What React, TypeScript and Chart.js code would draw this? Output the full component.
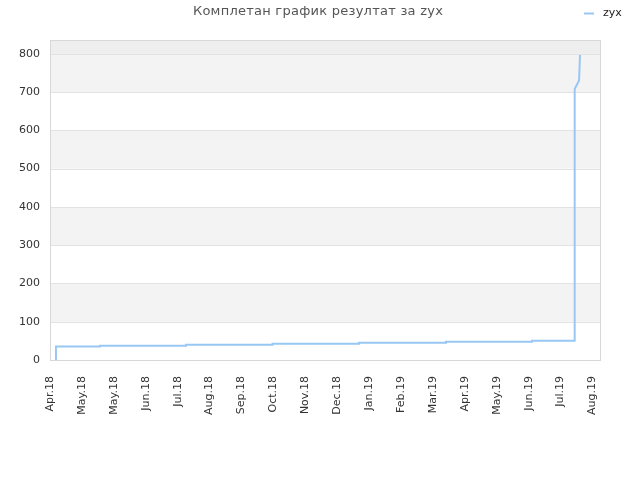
import React, { useEffect, useRef } from "react";
import { Chart, registerables } from "chart.js";

Chart.register(...registerables);

// days since 1 Apr 2018, with the matching score at each vertex of the line
const lineDays = [5.6, 5.6, 47, 47, 127.8, 127.8, 209.3, 209.3, 290.5, 290.5, 372.2, 372.2, 453.1, 453.1, 493.2, 493.2, 497.3, 498.2];
const lineValues = [0, 35, 35, 37.5, 37.5, 40, 40, 42.6, 42.6, 45.3, 45.3, 47.9, 47.9, 50.5, 50.5, 708, 730, 797];

const xTickDays = [0, 30, 60, 90, 120, 150, 180, 210, 240, 270, 300, 330, 360, 390, 420, 450, 480, 510];
const xTickLabels = [
    "Apr.18", "May.18", "May.18", "Jun.18", "Jul.18", "Aug.18", "Sep.18", "Oct.18", "Nov.18",
    "Dec.18", "Jan.19", "Feb.19", "Mar.19", "Apr.19", "May.19", "Jun.19", "Jul.19", "Aug.19",
];
const xMax = 517;
const yTicks = [0, 100, 200, 300, 400, 500, 600, 700, 800];
const yMax = 836;

const title = "Комплетан график резултат за zyx";
const seriesName = "zyx";
const lineColor = "#98c7f4";

const decorPlugin = {
    id: "decor",
    beforeDatasetsDraw(chart: any) {
        const { ctx, chartArea } = chart;
        const y = chart.scales.y;
        ctx.save();
        for (let i = 0; i < yTicks.length - 1; i++) {
            if (i % 2 === 1) {
                const top = y.getPixelForValue(yTicks[i + 1]);
                const bottom = y.getPixelForValue(yTicks[i]);
                ctx.fillStyle = "#f3f3f3";
                ctx.fillRect(chartArea.left, top, chartArea.right - chartArea.left, bottom - top);
            }
        }
        const last = y.getPixelForValue(yTicks[yTicks.length - 1]);
        ctx.fillStyle = "#eeeeee";
        ctx.fillRect(chartArea.left, chartArea.top, chartArea.right - chartArea.left, last - chartArea.top);
        // grid lines over the bands
        ctx.strokeStyle = "#e2e2e2";
        ctx.lineWidth = 1;
        yTicks.forEach((v) => {
            const py = Math.round(y.getPixelForValue(v)) + 0.5;
            ctx.beginPath();
            ctx.moveTo(chartArea.left, py);
            ctx.lineTo(chartArea.right, py);
            ctx.stroke();
        });
        ctx.strokeStyle = "#d8d8d8";
        ctx.strokeRect(
            Math.round(chartArea.left) + 0.5,
            Math.round(chartArea.top) + 0.5,
            Math.round(chartArea.right - chartArea.left),
            Math.round(chartArea.bottom - chartArea.top)
        );
        ctx.restore();
    },
    afterDraw(chart: any) {
        const { ctx } = chart;
        ctx.save();
        ctx.font = '13px "DejaVu Sans"';
        (ctx as any).letterSpacing = "0.25px";
        ctx.fillStyle = "#555555";
        ctx.textAlign = "center";
        ctx.textBaseline = "middle";
        ctx.fillText(title, 318, 12);
        (ctx as any).letterSpacing = "0px";

        ctx.strokeStyle = lineColor;
        ctx.lineWidth = 2;
        ctx.beginPath();
        ctx.moveTo(584, 13.5);
        ctx.lineTo(594, 13.5);
        ctx.stroke();
        ctx.font = '11px "DejaVu Sans"';
        ctx.fillStyle = "#222222";
        ctx.textAlign = "left";
        ctx.fillText(seriesName, 603, 13);
        ctx.restore();
    },
};

const App: React.FC = () => {
    const canvasRef = useRef<HTMLCanvasElement>(null);

    useEffect(() => {
        if (!canvasRef.current) return;
        const ctx = canvasRef.current.getContext("2d");
        if (!ctx) return;

        Chart.defaults.font.family = '"DejaVu Sans", sans-serif';

        const chart = new Chart(ctx, {
            type: "line",
            data: {
                datasets: [
                    {
                        label: seriesName,
                        data: lineDays.map((d, i) => ({ x: d, y: lineValues[i] })),
                        borderColor: lineColor,
                        backgroundColor: lineColor,
                        borderWidth: 2,
                        pointRadius: 0,
                        fill: false,
                        tension: 0,
                    },
                ],
            },
            options: {
                animation: false,
                responsive: true,
                maintainAspectRatio: false,
                layout: {
                    padding: { left: 0, top: 40, right: 40, bottom: 0 },
                },
                plugins: {
                    legend: { display: false },
                    title: { display: false },
                    tooltip: { enabled: false },
                },
                scales: {
                    x: {
                        type: "linear",
                        min: 0,
                        max: xMax,
                        afterBuildTicks: (scale: any) => {
                            scale.ticks = xTickDays.map((v) => ({ value: v }));
                        },
                        afterFit: (scale: any) => {
                            scale.height = 120;
                        },
                        ticks: {
                            autoSkip: false,
                            minRotation: 90,
                            maxRotation: 90,
                            padding: 8,
                            color: "#333333",
                            font: { size: 11 },
                            callback: (_v: any, i: number) => xTickLabels[i],
                        },
                        grid: { display: false },
                        border: { display: false },
                    },
                    y: {
                        min: 0,
                        max: yMax,
                        afterBuildTicks: (scale: any) => {
                            scale.ticks = yTicks.map((v) => ({ value: v }));
                        },
                        afterFit: (scale: any) => {
                            scale.width = 50;
                        },
                        ticks: {
                            padding: 10,
                            color: "#333333",
                            font: { size: 11 },
                        },
                        grid: { display: false, drawTicks: false },
                        border: { display: false },
                    },
                },
            },
            plugins: [decorPlugin],
        });

        return () => {
            chart.destroy();
        };
    }, []);

    return (
        <div style={{ position: "fixed", left: 0, top: 0, width: 640, height: 480 }}>
            <canvas ref={canvasRef}></canvas>
        </div>
    );
};

export default App;
